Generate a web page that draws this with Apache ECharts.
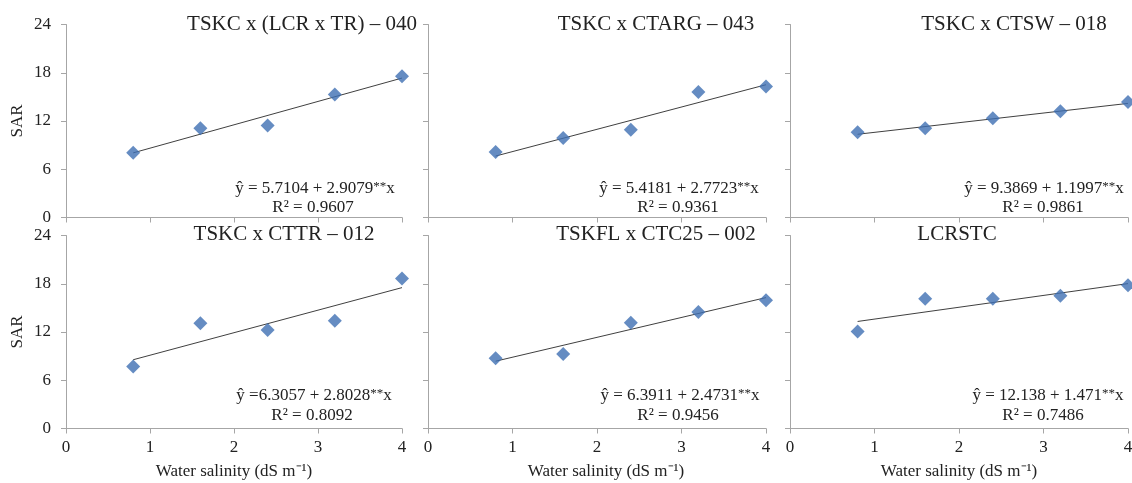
<!DOCTYPE html>
<html>
<head>
<meta charset="utf-8">
<script src="https://cdn.jsdelivr.net/npm/echarts@6/dist/echarts.min.js"></script>
<style>
html, body { margin: 0; background: #fff; }
#chart { width: 1132px; height: 483px; }
</style>
</head>
<body>
<div id="chart"></div>
<script>
// water salinity levels (dS m-1)
const salinity = [0.8, 1.6, 2.4, 3.2, 4.0];

const panelTitles = [
    'TSKC x (LCR x TR) \u2013 040',
    'TSKC x CTARG \u2013 043',
    'TSKC x CTSW \u2013 018',
    'TSKC x CTTR \u2013 012',
    'TSKFL x CTC25 \u2013 002',
    'LCRSTC'
];

// SAR per panel
const sar040 = [8.05, 11.1, 11.45, 15.3, 17.55];
const sar043 = [8.15, 9.9, 10.9, 15.6, 16.3];
const sar018 = [10.6, 11.1, 12.35, 13.2, 14.35];
const sar012 = [7.7, 13.1, 12.25, 13.4, 18.65];
const sar002 = [8.75, 9.25, 13.15, 14.5, 15.95];
const sarLcrstc = [12.05, 16.15, 16.15, 16.5, 17.8];

// trend line ends (at 0.8 and 4)
const fitStart = [8.04, 7.64, 10.35, 8.55, 8.37, 13.31];
const fitEnd = [17.34, 16.51, 14.19, 17.52, 16.28, 18.02];

const equations = [
    '\u0177 = 5.7104 + 2.9079',
    '\u0177 = 5.4181 + 2.7723',
    '\u0177 = 9.3869 + 1.1997',
    '\u0177 =6.3057 + 2.8028',
    '\u0177 = 6.3911 + 2.4731',
    '\u0177 = 12.138 + 1.471'
];
const rSquared = ['0.9607', '0.9361', '0.9861', '0.8092', '0.9456', '0.7486'];

const xTicks = [0, 1, 2, 3, 4];
const yTicks = [0, 6, 12, 18, 24];

const allSar = [sar040, sar043, sar018, sar012, sar002, sarLcrstc];

// layout
const FONT = '"Liberation Serif", "Times New Roman", serif';
const colLeft = [66, 428, 790];
const colWidth = [336, 338, 338];
const rowTop = [24.5, 235.5];
const rowHeight = 193;
const titleX = [302, 656, 1014, 284, 656, 957];
const titleY = [24, 234];
const eqX = [315, 679, 1044, 314, 680, 1048];
const r2X = [313, 678, 1043, 312, 678, 1043];
const eqY = [189, 396];
const r2Y = [208, 416];

const axisColor = '#a6a6a6';
const textColor = '#222';

const grids = [], xAxes = [], yAxes = [], series = [], graphics = [];

for (let i = 0; i < 6; i++) {
    const row = Math.floor(i / 3);
    const col = i % 3;
    grids.push({
        left: colLeft[col],
        top: rowTop[row],
        width: colWidth[col],
        height: rowHeight,
        containLabel: false,
        outerBoundsMode: 'none'
    });
    xAxes.push({
        gridIndex: i,
        type: 'value',
        min: xTicks[0],
        max: xTicks[xTicks.length - 1],
        interval: xTicks[1] - xTicks[0],
        axisLine: { show: true, lineStyle: { color: axisColor, width: 1 } },
        axisTick: { show: true, length: 5, lineStyle: { color: axisColor } },
        axisLabel: { show: row === 1, margin: 11, fontSize: 17, color: textColor, fontFamily: FONT },
        splitLine: { show: false },
        name: row === 1 ? 'Water salinity (dS m\u207B\u00B9)' : '',
        nameLocation: 'middle',
        nameGap: 35,
        nameTextStyle: { fontSize: 17, color: textColor, fontFamily: FONT, padding: col === 1 ? [0, 0, 0, 18] : 0 }
    });
    yAxes.push({
        gridIndex: i,
        type: 'value',
        min: yTicks[0],
        max: yTicks[yTicks.length - 1],
        interval: yTicks[1] - yTicks[0],
        axisLine: { show: true, lineStyle: { color: axisColor, width: 1 } },
        axisTick: { show: true, length: 5, lineStyle: { color: axisColor } },
        axisLabel: { show: col === 0, margin: 15, fontSize: 17, color: textColor, fontFamily: FONT },
        splitLine: { show: false },
        name: col === 0 ? 'SAR' : '',
        nameLocation: 'middle',
        nameGap: 40,
        nameRotate: 90,
        nameTextStyle: { fontSize: 17, color: textColor, fontFamily: FONT }
    });
    series.push({
        type: 'line',
        xAxisIndex: i,
        yAxisIndex: i,
        data: [[salinity[0], fitStart[i]], [salinity[salinity.length - 1], fitEnd[i]]],
        showSymbol: false,
        silent: true,
        lineStyle: { color: '#404040', width: 1 },
        z: 2
    });
    series.push({
        type: 'scatter',
        xAxisIndex: i,
        yAxisIndex: i,
        data: salinity.map((x, k) => [x, allSar[i][k]]),
        symbol: 'diamond',
        symbolSize: 14,
        itemStyle: { color: '#3f6fb3' },
        z: 3
    });

    graphics.push({
        type: 'text',
        x: titleX[i],
        y: titleY[row],
        style: {
            text: panelTitles[i],
            fill: textColor,
            fontSize: 21,
            fontFamily: FONT,
            align: 'center',
            verticalAlign: 'middle'
        }
    });
    graphics.push({
        type: 'text',
        x: eqX[i],
        y: eqY[row],
        style: {
            text: '{t|' + equations[i] + '}{s|**}{t|x}',
            fill: textColor,
            align: 'center',
            verticalAlign: 'middle',
            rich: {
                t: { fontSize: 17, fontFamily: FONT, fill: textColor },
                s: { fontSize: 13, fontFamily: FONT, fill: textColor, verticalAlign: 'top' }
            }
        }
    });
    graphics.push({
        type: 'text',
        x: r2X[i],
        y: r2Y[row],
        style: {
            text: 'R\u00B2 = ' + rSquared[i],
            fill: textColor,
            fontSize: 17,
            fontFamily: FONT,
            align: 'center',
            verticalAlign: 'middle'
        }
    });
}

const chart = echarts.init(document.getElementById('chart'));
chart.setOption({
    animation: false,
    backgroundColor: '#fff',
    grid: grids,
    xAxis: xAxes,
    yAxis: yAxes,
    series: series,
    graphic: graphics
});
</script>
</body>
</html>
